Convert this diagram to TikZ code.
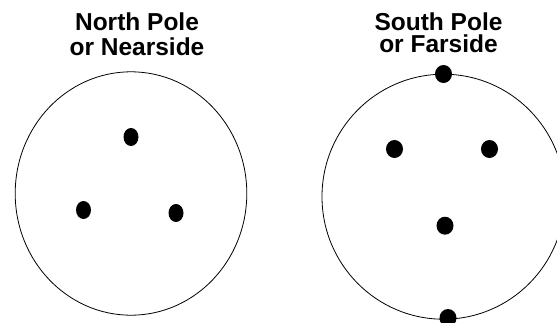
\documentclass[tikz,border=0pt]{standalone}
\usepackage{fontspec}
\setmainfont{Liberation Sans}
\usetikzlibrary{shapes.geometric}
\begin{document}
\begin{tikzpicture}[x=1pt,y=-1pt,
  globe/.style={draw=black,line width=0.8pt,ellipse,inner sep=0pt},
  pin/.style={fill=black,ellipse,inner sep=0pt,minimum width=15pt,minimum height=18pt},
  bigpin/.style={pin,minimum width=17pt,minimum height=18pt},
  title/.style={align=center,inner sep=0pt,anchor=north,font=\bfseries\fontsize{24.5}{#1}\selectfont}]
\useasboundingbox (0,0) rectangle (557,322);
\clip (0,0) rectangle (557,322);
\node[title=25] (tl) at (137,12.5) {North Pole\\or Nearside};
\node[title=22] (tr) at (438.5,12.5) {South Pole\\or Farside};
\node[globe,minimum width=231.6pt,minimum height=243.4pt] (np) at (131,193.5) {};
\node[globe,minimum width=243pt,minimum height=245pt] (sp) at (443.5,196.7) {};
\node[pin] (n1) at (131,137) {};
\node[pin] (n2) at (83.5,210) {};
\node[pin] (n3) at (176,213) {};
\node[bigpin] (s1) at (443.5,74) {};
\node[bigpin] (s2) at (394.5,149) {};
\node[bigpin] (s3) at (489.5,149) {};
\node[bigpin] (s4) at (445,225.7) {};
\node[bigpin] (s5) at (448,318) {};
\end{tikzpicture}
\end{document}
